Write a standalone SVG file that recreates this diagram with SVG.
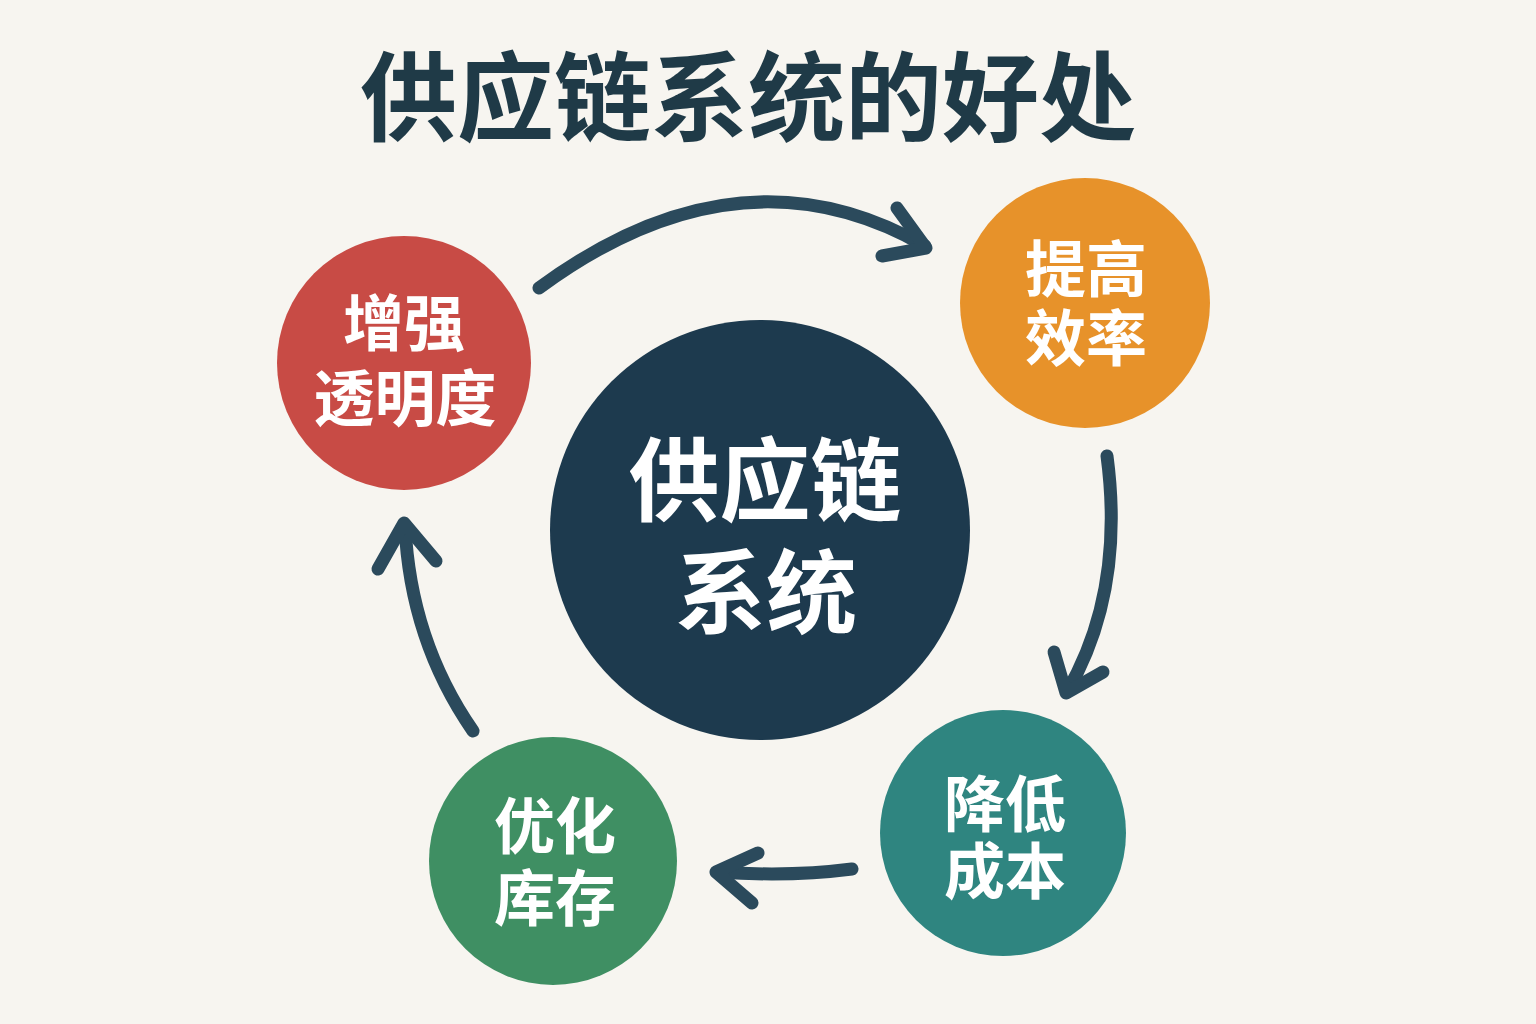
<svg xmlns="http://www.w3.org/2000/svg" width="1536" height="1024" viewBox="0 0 1536 1024">
<style>
.t{font-family:"Noto Sans CJK SC","Noto Sans",sans-serif;font-weight:bold;text-anchor:middle}
.w{fill:#ffffff}
.arr{fill:none;stroke:#2b4a5c;stroke-width:13;stroke-linecap:round;stroke-linejoin:round}
</style>
<rect width="1536" height="1024" fill="#f7f5f0"/>
<text class="t" x="748" y="133" font-size="97" fill="#1f3a47">供应链系统的好处</text>
<g id="connectors">
<path class="arr" d="M539,288 Q740,140 925,246"/>
<polyline class="arr" points="897,208 926,248 882,256"/>
<path class="arr" d="M1107,456 Q1125,592 1067,692"/>
<polyline class="arr" points="1054,652 1066,693 1103,672"/>
<path class="arr" d="M852,869 Q790,877 718,872"/>
<polyline class="arr" points="758,853 716,872 752,903"/>
<path class="arr" d="M473,731 Q410,640 405,525"/>
<polyline class="arr" points="378,569 404,523 436,561"/>
</g>
<g id="center">
<circle cx="760" cy="530" r="210" fill="#1d3a4e"/>
<text class="t w" x="765" y="514" font-size="91">供应链</text>
<text class="t w" x="766" y="626" font-size="91">系统</text>
</g>
<g id="node-transparency">
<circle cx="404" cy="363" r="127" fill="#c84b45"/>
<text class="t w" x="404" y="346" font-size="61">增强</text>
<text class="t w" x="405" y="421" font-size="61">透明度</text>
</g>
<g id="node-efficiency">
<circle cx="1085" cy="303" r="125" fill="#e7922a"/>
<text class="t w" x="1086" y="292" font-size="61">提高</text>
<text class="t w" x="1086" y="361" font-size="61">效率</text>
</g>
<g id="node-cost">
<circle cx="1003" cy="833" r="123" fill="#2f8580"/>
<text class="t w" x="1005" y="827" font-size="61">降低</text>
<text class="t w" x="1005" y="894" font-size="61">成本</text>
</g>
<g id="node-inventory">
<circle cx="553" cy="861" r="124" fill="#3f8f63"/>
<text class="t w" x="555" y="849" font-size="61">优化</text>
<text class="t w" x="555" y="921" font-size="61">库存</text>
</g>
</svg>
